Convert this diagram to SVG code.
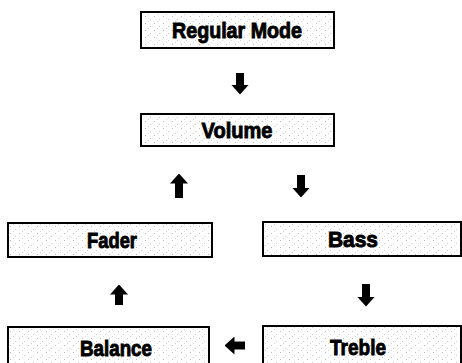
<svg xmlns="http://www.w3.org/2000/svg" width="462" height="363" viewBox="0 0 462 363">
  <style>
    .box { fill: url(#stipple); stroke: #000; stroke-width: 2; }
    .lbl { font-family: "Liberation Sans", Arial, sans-serif; font-weight: bold; font-size: 22px; fill: #000; stroke: #000; stroke-width: 0.9; text-anchor: middle; }
    .conn { stroke: #000; stroke-width: 8; fill: none; }
  </style>
  <defs>
    <pattern id="stipple" width="9" height="7" patternUnits="userSpaceOnUse">
      <rect width="9" height="7" fill="#fff"/>
      <rect x="1" y="2" width="1" height="1" fill="#bbb"/>
      <rect x="6" y="5" width="1" height="1" fill="#ccc"/>
      <rect x="4" y="0" width="1" height="1" fill="#d5d5d5"/>
    </pattern>
    <marker id="head" viewBox="0 0 10 18" refX="0.5" refY="9" markerWidth="10" markerHeight="18" markerUnits="userSpaceOnUse" orient="auto">
      <path d="M0,0 L10,9 L0,18 z" fill="#000"/>
    </marker>
  </defs>

  <g id="regular-mode">
    <rect class="box" x="141" y="12" width="193" height="36"/>
    <text class="lbl" x="237" y="38" textLength="130" lengthAdjust="spacingAndGlyphs">Regular Mode</text>
  </g>
  <g id="volume">
    <rect class="box" x="141" y="114" width="193" height="32"/>
    <text class="lbl" x="237" y="138" textLength="71" lengthAdjust="spacingAndGlyphs">Volume</text>
  </g>
  <g id="fader">
    <rect class="box" x="8" y="223" width="204" height="34"/>
    <text class="lbl" x="112" y="248" textLength="50" lengthAdjust="spacingAndGlyphs">Fader</text>
  </g>
  <g id="bass">
    <rect class="box" x="263" y="222" width="198" height="34"/>
    <text class="lbl" x="353" y="247" textLength="50" lengthAdjust="spacingAndGlyphs">Bass</text>
  </g>
  <g id="balance">
    <rect class="box" x="8" y="327" width="201" height="42"/>
    <text class="lbl" x="116" y="356" textLength="72" lengthAdjust="spacingAndGlyphs">Balance</text>
  </g>
  <g id="treble">
    <rect class="box" x="263" y="326" width="198" height="42"/>
    <text class="lbl" x="358" y="355" textLength="56" lengthAdjust="spacingAndGlyphs">Treble</text>
  </g>

  <g id="connectors">
    <line class="conn" x1="240" y1="73" x2="240" y2="85" marker-end="url(#head)"/>
    <line class="conn" x1="179" y1="198" x2="179" y2="183" marker-end="url(#head)"/>
    <line class="conn" x1="301" y1="175" x2="301" y2="188" marker-end="url(#head)"/>
    <line class="conn" x1="119" y1="305" x2="119" y2="294" marker-end="url(#head)"/>
    <line class="conn" x1="366" y1="284" x2="366" y2="297" marker-end="url(#head)"/>
    <line class="conn" x1="245" y1="345.5" x2="234" y2="345.5" marker-end="url(#head)"/>
  </g>
</svg>
